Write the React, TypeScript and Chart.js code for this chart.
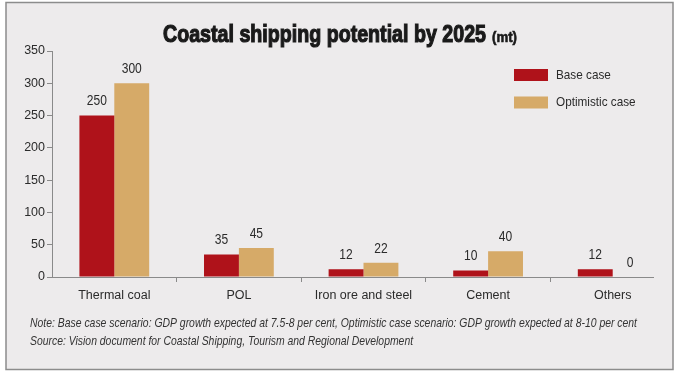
import { useEffect, useRef } from "react";
import { Chart, registerables } from "chart.js";

Chart.register(...registerables);

const categories = ["Thermal coal", "POL", "Iron ore and steel", "Cement", "Others"];
const baseCase = [250, 35, 12, 10, 12];
const optimisticCase = [300, 45, 22, 40, 0];
const seriesNames = ["Base case", "Optimistic case"];
const yMax = 350;
const yStep = 50;
const titleMain = "Coastal shipping potential by 2025";
const titleUnit = "(mt)";
const noteLines = [
  "Note: Base case scenario: GDP growth expected at 7.5-8 per cent, Optimistic case scenario: GDP growth expected at 8-10 per cent",
  "Source: Vision document for Coastal Shipping, Tourism and Regional Development",
];

const RED = "#af121a";
const TAN = "#d6aa68";
const BG = "#edebec";
const FRAME = "#8c8c8c";
const AXIS = "#8a8a8a";
const TEXT = "#2b2b2b";
const SANS = "'Liberation Sans', Arial, sans-serif";

function drawScaled(ctx: any, text: string, x: number, y: number, sx: number) {
  ctx.save();
  ctx.translate(x, y);
  ctx.scale(sx, 1);
  ctx.fillText(text, 0, 0);
  ctx.restore();
}

const decor = {
  id: "decor",
  beforeDraw(chart: any) {
    const ctx = chart.ctx;
    ctx.save();
    ctx.fillStyle = "#ffffff";
    ctx.fillRect(0, 0, chart.width, chart.height);
    ctx.fillStyle = BG;
    ctx.fillRect(6, 2.5, 667, 367);
    ctx.strokeStyle = FRAME;
    ctx.lineWidth = 1.5;
    ctx.strokeRect(6, 2.5, 667, 367);
    ctx.restore();
  },
  afterDatasetsDraw(chart: any) {
    const ctx = chart.ctx;
    ctx.save();
    ctx.font = `14px ${SANS}`;
    ctx.fillStyle = TEXT;
    ctx.textAlign = "center";
    ctx.textBaseline = "middle";
    chart.data.datasets.forEach((ds: any, i: number) => {
      const meta = chart.getDatasetMeta(i);
      meta.data.forEach((el: any, j: number) => {
        drawScaled(ctx, String(ds.data[j]), el.x, el.y - 14, 0.86);
      });
    });
    ctx.restore();
  },
  afterDraw(chart: any) {
    const ctx = chart.ctx;
    const area = chart.chartArea;
    ctx.save();
    // x axis line
    ctx.strokeStyle = AXIS;
    ctx.lineWidth = 1;
    ctx.beginPath();
    ctx.moveTo(area.left, Math.round(area.bottom) + 0.5);
    ctx.lineTo(654, Math.round(area.bottom) + 0.5);
    ctx.stroke();

    // title
    ctx.fillStyle = "#1a1a1a";
    ctx.strokeStyle = "#1a1a1a";
    ctx.textBaseline = "alphabetic";
    ctx.textAlign = "left";
    ctx.font = `bold 24px ${SANS}`;
    const w = ctx.measureText(titleMain).width;
    ctx.save();
    ctx.translate(163, 41.7);
    ctx.scale(323 / w, 1);
    ctx.lineWidth = 1.2;
    ctx.fillText(titleMain, 0, 0);
    ctx.strokeText(titleMain, 0, 0);
    ctx.restore();
    ctx.font = `bold 14px ${SANS}`;
    const w2 = ctx.measureText(titleUnit).width;
    ctx.save();
    ctx.translate(492, 41.5);
    ctx.scale(25 / w2, 1);
    ctx.lineWidth = 0.6;
    ctx.fillText(titleUnit, 0, 0);
    ctx.strokeText(titleUnit, 0, 0);
    ctx.restore();

    // legend
    chart.data.datasets.forEach((ds: any, i: number) => {
      const y = 69 + i * 27.5;
      ctx.fillStyle = ds.backgroundColor;
      ctx.fillRect(514, y, 34, 12);
      ctx.fillStyle = TEXT;
      ctx.font = `13.5px ${SANS}`;
      ctx.textBaseline = "middle";
      drawScaled(ctx, ds.label, 556, y + 6, 0.87);
    });

    // footnotes
    ctx.font = `italic 13px ${SANS}`;
    ctx.fillStyle = "#333333";
    ctx.textBaseline = "middle";
    const nw = ctx.measureText(noteLines[0]).width;
    const sx = 607 / nw;
    noteLines.forEach((line, i) => {
      drawScaled(ctx, line, 30, 323 + i * 18, sx);
    });
    ctx.restore();
  },
};

export default function App() {
  const ref = useRef<HTMLCanvasElement | null>(null);
  useEffect(() => {
    if (!ref.current) return;
    const chart = new Chart(ref.current, {
      type: "bar",
      data: {
        labels: categories,
        datasets: [
          { label: seriesNames[0], data: baseCase, backgroundColor: RED, categoryPercentage: 0.56, barPercentage: 1 },
          { label: seriesNames[1], data: optimisticCase, backgroundColor: TAN, categoryPercentage: 0.56, barPercentage: 1 },
        ],
      },
      options: {
        animation: false,
        responsive: false,
        layout: { padding: { top: 51, right: 3, bottom: 0, left: 0 } },
        plugins: { legend: { display: false }, title: { display: false }, tooltip: { enabled: false } },
        scales: {
          x: {
            grid: {
              offset: true,
              drawOnChartArea: false,
              drawTicks: true,
              tickLength: 5,
              color: (c: any) => (c.index >= 1 && c.index <= 4 ? AXIS : "rgba(0,0,0,0)"),
            },
            border: { display: false },
            ticks: { font: { family: SANS, size: 12.5 }, color: TEXT, padding: 6, maxRotation: 0, autoSkip: false },
            afterFit: (s: any) => {
              s.height = 98;
            },
          },
          y: {
            min: 0,
            max: yMax,
            ticks: { stepSize: yStep, font: { family: SANS, size: 12.5 }, color: TEXT, padding: 2 },
            grid: { drawOnChartArea: false, drawTicks: true, tickLength: 5, color: AXIS },
            border: { display: true, color: AXIS },
            afterFit: (s: any) => {
              s.width = 52;
            },
          },
        },
      },
      plugins: [decor],
    });
    return () => chart.destroy();
  }, []);
  return (
    <div style={{ position: "absolute", left: 0, top: 0, width: 678, height: 375 }}>
      <canvas ref={ref} width={678} height={375} style={{ display: "block" }} />
    </div>
  );
}
